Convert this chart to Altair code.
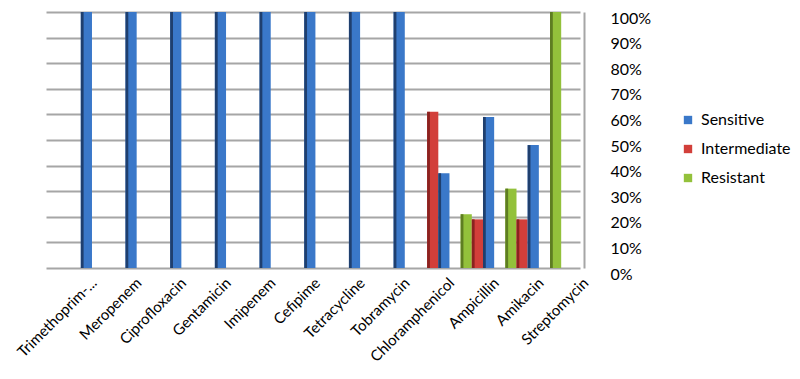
import altair as alt
import pandas as pd

categories = ["Trimethoprim-...", "Meropenem", "Ciprofloxacin", "Gentamicin", "Imipenem",
              "Cefipime", "Tetracycline", "Tobramycin", "Chloramphenicol", "Ampicillin",
              "Amikacin", "Streptomycin"]
resistant = [0, 0, 0, 0, 0, 0, 0, 0, 0, 21, 31, 100]
intermediate = [0, 0, 0, 0, 0, 0, 0, 0, 61, 19, 19, 0]
sensitive = [100, 100, 100, 100, 100, 100, 100, 100, 37, 59, 48, 0]
series = ["Resistant", "Intermediate", "Sensitive"]
legend_order = ["Sensitive", "Intermediate", "Resistant"]
colors = ["#3A78C9", "#D23F3A", "#93C13B"]
dark_colors = {"Sensitive": "#1F3F6E", "Intermediate": "#8B2220", "Resistant": "#5E7D22"}

# sub-slots within each bar (first slot = dark side face)
slots = [f"{s}-{k}" for s in series for k in range(4)]

rows = []
for i, c in enumerate(categories):
    for s, vals in zip(series, [resistant, intermediate, sensitive]):
        rows.append({"drug": c, "series": s, "value": vals[i],
                     "dark": dark_colors[s], "slot": f"{s}-0"})
df = pd.DataFrame(rows)

FONT = "Lato"
W, H = 534, 256
TOP = 4
TOTAL_W, TOTAL_H = 784, 363

x_axis = alt.Axis(labelAngle=-45, labelAlign="right", labelBaseline="middle",
                  labelPadding=12, labelOffset=19, ticks=False, domain=False,
                  labelFont=FONT, labelFontSize=15, labelColor="#000000")
y_axis = alt.Axis(orient="right", values=list(range(0, 101, 10)),
                  labelExpr="datum.value + '%'", labelFont=FONT, labelFontSize=16,
                  labelColor="#000000", labelPadding=26, labelOffset=6, ticks=False,
                  domain=True, domainColor="#A6A6A6", domainWidth=2,
                  grid=True, gridColor="#A6A6A6", gridWidth=2)
x_scale = alt.Scale(paddingInner=0.25, paddingOuter=0.1, range=[4, W + 4])
y_scale = alt.Scale(domain=[0, 100], nice=False)

base = alt.Chart(df)

bars = base.mark_bar().encode(
    x=alt.X("drug:N", sort=categories, title=None, scale=x_scale, axis=x_axis),
    xOffset=alt.XOffset("series:N", sort=series),
    y=alt.Y("value:Q", title=None, scale=y_scale, axis=y_axis),
    color=alt.Color("series:N",
                    scale=alt.Scale(domain=legend_order, range=colors),
                    legend=alt.Legend(orient="none", legendX=630, legendY=100, title=None,
                                      symbolType="square", symbolSize=70,
                                      symbolStrokeWidth=0, labelFont=FONT, labelFontSize=16,
                                      labelColor="#000000", rowPadding=13, labelOffset=5)),
)

sides = base.mark_bar().encode(
    x=alt.X("drug:N", sort=categories, title=None, scale=x_scale, axis=x_axis),
    xOffset=alt.XOffset("slot:N", scale=alt.Scale(domain=slots)),
    y=alt.Y("value:Q", title=None, scale=y_scale, axis=y_axis),
    color=alt.Color("dark:N", scale=None),
)

chart = alt.layer(bars, sides).resolve_scale(xOffset="independent").properties(
    width=W, height=H,
    autosize=alt.AutoSizeParams(type="none"),
    padding={"left": 42, "top": TOP, "right": TOTAL_W - 42 - W, "bottom": TOTAL_H - H - TOP},
).configure_view(stroke=None)

chart.save("out.html", embed_options={"renderer": "svg", "actions": False})
